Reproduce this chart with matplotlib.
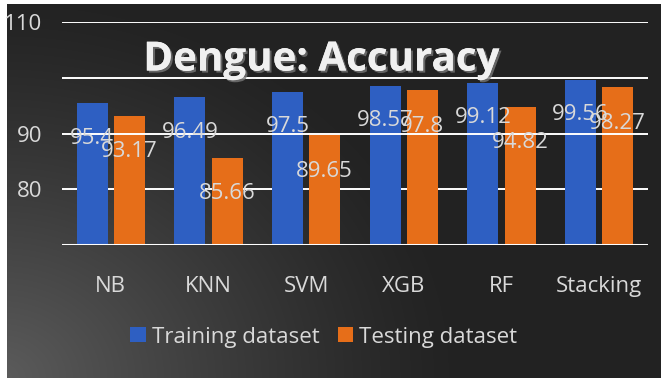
import numpy as np
import matplotlib.pyplot as plt
import matplotlib.patheffects as pe

# data
models = ['NB', 'KNN', 'SVM', 'XGB', 'RF', 'Stacking']
training = [95.4, 96.49, 97.5, 98.57, 99.12, 99.56]
testing = [93.17, 85.66, 89.65, 97.8, 94.82, 98.27]
training_labels = ['95.4', '96.49', '97.5', '98.57', '99.12', '99.56']
testing_labels = ['93.17', '85.66', '89.65', '97.8', '94.82', '98.27']
yticks = [110, 90, 80]
gridlines = [110, 100, 80]

blue = '#2e5fc2'
orange = '#e66e19'
txt = '#d9d9d9'
font = 'Open Sans'

W, H = 661, 378
fig = plt.figure(figsize=(W / 100, H / 100), dpi=100)

# dark background with a lighter glow in the lower left corner
bg = fig.add_axes([0, 0, 1, 1], zorder=-10)
yy, xx = np.mgrid[0:H, 0:W]
d = np.sqrt((xx - 0) ** 2 + ((H - yy) * 1.2) ** 2)
t = np.clip(1 - d / 450, 0, 1) ** 1.2
dark = np.array([0.137, 0.137, 0.137])
light = np.array([0.36, 0.36, 0.36])
img = dark + (light - dark) * t[..., None]
img[:, :7] = 1.0
img[:4, :] = 1.0
bg.imshow(img, aspect='auto', extent=[0, 1, 0, 1], origin='upper')
bg.axis('off')

ax = fig.add_axes([62 / W, (H - 245) / H, 586 / W, 223 / H])
ax.set_facecolor('none')

x = np.arange(len(models))
bw = 0.317
off = 0.19
ax.bar(x - off, training, bw, color=blue, zorder=2, label='Training dataset')
ax.bar(x + off, testing, bw, color=orange, zorder=2, label='Testing dataset')

for g in gridlines:
    ax.axhline(g, color='white', lw=1.4, zorder=1)
ax.axhline(90, color='white', lw=1.4, zorder=3)
ax.axhline(70, color='white', lw=2.2, zorder=3)

for i in range(len(models)):
    ax.annotate(training_labels[i], (x[i] - off, training[i]), xytext=(0, -25),
                textcoords='offset points', ha='center', va='center',
                color=txt, fontsize=16, family=font, zorder=4)
    ax.annotate(testing_labels[i], (x[i] + off, testing[i]), xytext=(0, -26),
                textcoords='offset points', ha='center', va='center',
                color=txt, fontsize=16, family=font, zorder=4)

ax.set_xlim(-0.5, len(models) - 0.5)
ax.set_ylim(70, 110)
ax.set_yticks(yticks)
ax.set_yticklabels([str(v) for v in yticks], color=txt, fontsize=16, family=font)
ax.set_xticks(x)
ax.set_xticklabels(models, color=txt, fontsize=16, family=font)
ax.tick_params(axis='y', length=0, pad=14)
ax.tick_params(axis='x', length=0, pad=22)
for s in ax.spines.values():
    s.set_visible(False)

fig.text(321 / W, 1 - 60 / H, 'Dengue: Accuracy', ha='center', va='center',
         color='#f0f0f0', fontsize=29, fontweight='bold', family=font,
         path_effects=[pe.withSimplePatchShadow(offset=(1.5, -1.5), shadow_rgbFace='#777777', alpha=0.8),
                       pe.Normal()])

leg = fig.legend(loc='center', bbox_to_anchor=(324 / W, 1 - 337 / H), ncol=2,
                 frameon=False, handlelength=0.68, handleheight=0.68,
                 handletextpad=0.3, columnspacing=0.8,
                 prop={'family': font, 'size': 16})
for t_ in leg.get_texts():
    t_.set_color(txt)

fig.savefig('out.png', dpi=100)
